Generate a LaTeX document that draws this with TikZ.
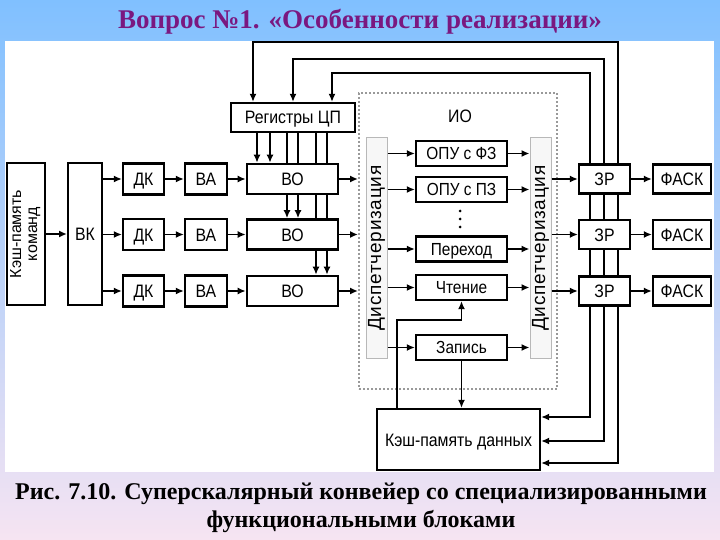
\documentclass[tikz,border=0pt]{standalone}
\usepackage{graphicx}
\usepackage{fontspec}
\setmainfont{Liberation Serif}
\newfontfamily\dfont[FakeStretch=0.88]{Liberation Sans}
\newfontfamily\rfont{Liberation Sans}
\newfontfamily\sfont[LetterSpace=4]{Liberation Sans}
\usetikzlibrary{arrows.meta}
\pgfdeclarelayer{bgzero}
\pgfdeclarelayer{bgone}
\pgfsetlayers{bgzero,bgone,main}
\definecolor{titlec}{RGB}{122,24,128}
\definecolor{skyc}{RGB}{128,192,255}
\definecolor{midc}{RGB}{196,214,250}
\definecolor{pinkc}{RGB}{246,228,242}
\tikzset{
  boxbase/.style={draw, line width=2.2pt, fill=white, inner sep=0pt,
    font=\dfont\fontsize{18}{18}\selectfont},
  blk/.style={boxbase, text height=13pt, text depth=0pt},
  unitbox/.style={blk, minimum width=91, minimum height=25,
    font=\dfont\fontsize{17.5}{17.5}\selectfont, text height=12.5pt},
  dispbox/.style={draw=black!28, line width=1pt, fill=black!3,
    minimum width=21, minimum height=220, inner sep=0pt},
  arr/.style={line width=1.7pt, -{Latex[length=8pt,width=7pt]}},
  busarr/.style={line width=1.7pt, {Latex[length=8pt,width=7pt]}-{Latex[length=8pt,width=7pt]}},
}
\begin{document}
\begin{tikzpicture}[x=1pt,y=-1pt]
\useasboundingbox (0,0) rectangle (720,540);
\begin{pgfonlayer}{bgzero}
  \shade[top color=skyc, middle color=midc, bottom color=pinkc] (0,0) rectangle (720,540);
  \fill[white] (5,41) rectangle (714,472);
\end{pgfonlayer}

% title and caption
\node[font=\bfseries\fontsize{27}{27}\selectfont, text=titlec] (title) at (360,22)
  {Вопрос №1. «Особенности реализации»};
\node[font=\bfseries\fontsize{24}{28}\selectfont, align=center] (caption) at (361,508)
  {Рис. 7.10. Суперскалярный конвейер со специализированными\\функциональными блоками};

% left blocks
\node[boxbase, minimum width=38, minimum height=142] (kk) at (26,234)
  {\rotatebox{90}{\rfont\fontsize{16}{16}\selectfont\begin{tabular}{@{}c@{}}Кэш-память\\команд\end{tabular}}};
\node[blk, line width=2pt, minimum width=34, minimum height=142] (vk) at (85,234) {ВК};

\foreach \i/\y in {1/179,2/234.5,3/291}{
  \node[blk, minimum width=41, minimum height=31] (dk\i) at (143.5,\y) {ДК};
  \node[blk, minimum width=42, minimum height=31] (va\i) at (206,\y) {ВА};
  \node[blk, line width=2.6pt, minimum width=91, minimum height=30] (vo\i) at (292.5,\y) {ВО};
  \node[blk, minimum width=51, minimum height=29] (zr\i) at (604.5,\y) {ЗР};
  \node[blk, minimum width=58, minimum height=29] (fask\i) at (682,\y) {ФАСК};
}
\node[blk, minimum width=124, minimum height=29] (reg) at (293,117.5) {Регистры ЦП};

% execution block
\node[draw=black!40, dash pattern=on 2pt off 2pt, line width=2pt,
  minimum width=198, minimum height=296, inner sep=0pt] (io) at (458,241) {};
\node[font=\dfont\fontsize{18}{18}\selectfont] (iolabel) at (460,116) {ИО};
\node[dispbox] (dl) at (376.5,248) {\rotatebox{90}{\sfont\fontsize{19}{19}\selectfont Диспетчеризация}};
\node[dispbox] (dr) at (540.5,248) {\rotatebox{90}{\sfont\fontsize{19}{19}\selectfont Диспетчеризация}};

\node[unitbox] (u1) at (461.5,153.5) {ОПУ с ФЗ};
\node[unitbox] (u2) at (461.5,189.5) {ОПУ с ПЗ};
\node[unitbox] (u3) at (461.5,249) {Переход};
\node[unitbox] (u4) at (461.5,287.5) {Чтение};
\node[unitbox] (u5) at (461.5,347.5) {Запись};
\foreach \yy in {211,219,227} \fill (460,\yy) circle (1.5);

\node[blk, minimum width=163, minimum height=61] (kd) at (458.5,439.5) {Кэш-память данных};

% helper coordinates
\coordinate (xa) at (257,0);
\coordinate (xb) at (270,0);
\coordinate (xc) at (287,0);
\coordinate (xd) at (298,0);
\coordinate (xe) at (316,0);
\coordinate (xf) at (327,0);
\coordinate (ra) at (253,0);
\coordinate (rb) at (293,0);
\coordinate (rc) at (332,0);
\coordinate (b1) at (618,42);
\coordinate (b2) at (604,59);
\coordinate (b3) at (590,73);
\coordinate (ka) at (0,463);
\coordinate (kb) at (0,441);
\coordinate (kc) at (0,417);
\coordinate (rd) at (397,320);

% connectors behind boxes
\begin{pgfonlayer}{bgone}
  \draw[arr] (reg.south -| xa) -- (vo1.north -| xa);
  \draw[arr] (reg.south -| xb) -- (vo1.north -| xb);
  \draw[arr] (reg.south -| xc) -- (vo2.north -| xc);
  \draw[arr] (reg.south -| xd) -- (vo2.north -| xd);
  \draw[arr] (reg.south -| xe) -- (vo3.north -| xe);
  \draw[arr] (reg.south -| xf) -- (vo3.north -| xf);
  \draw[busarr] (reg.north -| ra) |- (b1) |- (kd.east |- ka);
  \draw[busarr] (reg.north -| rb) |- (b2) |- (kd.east |- kb);
  \draw[busarr] (reg.north -| rc) |- (b3) |- (kd.east |- kc);
\end{pgfonlayer}

\draw[arr] (kk.east) -- (vk.west);
\foreach \i in {1,2,3}{
  \draw[arr] (vk.east |- dk\i) -- (dk\i.west);
  \draw[arr] (dk\i.east) -- (va\i.west);
  \draw[arr] (va\i.east) -- (vo\i.west);
  \draw[arr] (vo\i.east) -- (io.west |- vo\i);
  \draw[arr] (dr.east |- zr\i) -- (zr\i.west);
  \draw[arr] (zr\i.east) -- (fask\i.west);
}
\foreach \u in {u1,u2,u3,u4,u5}{
  \draw[arr] (dl.east |- \u) -- (\u.west);
  \draw[arr] (\u.east) -- (dr.west |- \u);
}
\draw[arr] (kd.north -| rd) -- (rd) -| (u4.south);
\draw[arr] (u5.south) -- (u5.south |- kd.north);
\end{tikzpicture}
\end{document}
